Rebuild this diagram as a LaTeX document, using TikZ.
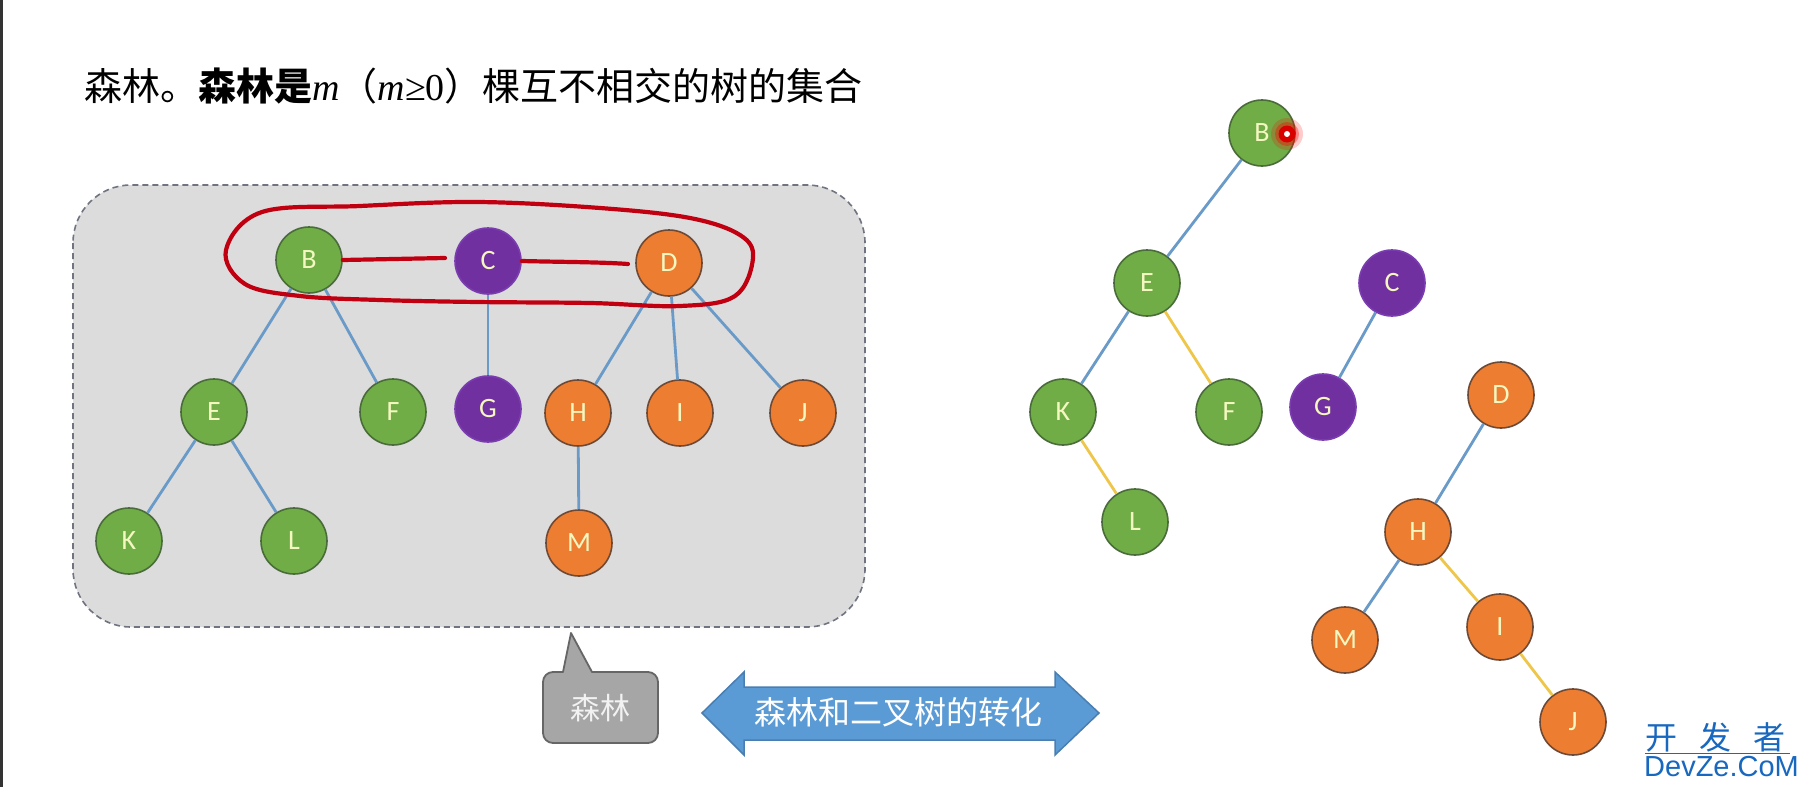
\documentclass[tikz,border=0pt]{standalone}
\usepackage{fontspec}
\setmainfont{Liberation Serif}
\newfontfamily\cjk{Noto Sans CJK SC}
\newfontfamily\nodefont{Carlito}
\newfontfamily\wmfont{Liberation Sans}
\definecolor{ngreen}{HTML}{70AD47}
\definecolor{ngreenb}{HTML}{4A6B3A}
\definecolor{norange}{HTML}{ED7D31}
\definecolor{norangeb}{HTML}{6E4A36}
\definecolor{npurple}{HTML}{7030A0}
\definecolor{npurpleb}{HTML}{7A3DB0}
\definecolor{ntext}{HTML}{F4F8C0}
\definecolor{eblue}{HTML}{6A9BC8}
\definecolor{eyellow}{HTML}{EEC64A}
\definecolor{boxgray}{HTML}{DCDCDC}
\definecolor{dashgray}{HTML}{6F7480}
\definecolor{loopred}{HTML}{C00010}
\definecolor{callgray}{HTML}{A6A6A6}
\definecolor{arrowblue}{HTML}{5B9BD5}
\definecolor{arrowblueb}{HTML}{4A7EB0}
\definecolor{wmblue}{HTML}{1868C0}
\tikzset{
  tnode/.style={circle, minimum size=66pt, inner sep=0pt, line width=1.6pt,
    font=\nodefont\fontsize{28}{30}\selectfont, text=ntext},
  gn/.style={tnode, fill=ngreen, draw=ngreenb},
  on/.style={tnode, fill=norange, draw=norangeb},
  pn/.style={tnode, fill=npurple, draw=npurpleb},
  be/.style={draw=eblue, line width=2.8pt},
  ye/.style={draw=eyellow, line width=2.8pt},
}
\begin{document}
\begin{tikzpicture}[x=1pt, y=-1pt]
\useasboundingbox (0,0) rectangle (1800,787);
\fill[white] (0,0) rectangle (1800,787);
\fill[black!80] (0,0) rectangle (2.5,787);

% title
\node[anchor=west, inner sep=0pt, font=\fontsize{38}{42}\selectfont] (title) at (84,86)
  {{\cjk 森林。\bfseries 森林是}\textit{m}{\cjk （}\textit{m}≥0{\cjk ）棵互不相交的树的集合}};

% forest box
\draw[fill=boxgray, draw=dashgray, line width=1.6pt, dash pattern=on 6pt off 4pt, rounded corners=58pt]
  (73,185) rectangle (865,627);

% left forest nodes
\node[gn] (B) at (309,260) {B};
\node[pn] (C) at (488,261) {C};
\node[on] (D) at (669,263) {D};
\node[gn] (E) at (214,412) {E};
\node[gn] (F) at (393,412) {F};
\node[pn] (G) at (488,409) {G};
\node[on] (H) at (578,413) {H};
\node[on] (I) at (680,413) {I};
\node[on] (J) at (803,413) {J};
\node[gn] (K) at (129,541) {K};
\node[gn] (L) at (294,541) {L};
\node[on] (M) at (579,543) {M};
\draw[be] (B) -- (E);
\draw[be] (B) -- (F);
\draw[be] (C) -- (G);
\draw[be] (D) -- (H);
\draw[be] (D) -- (I);
\draw[be] (D) -- (J);
\draw[be] (E) -- (K);
\draw[be] (E) -- (L);
\draw[be] (H) -- (M);

% red hand-drawn marks
\draw[loopred, line width=4.2pt, line cap=round] plot[smooth cycle, tension=0.6] coordinates {
  (226,250) (262,212) (360,206) (477,202) (600,208) (690,218) (740,235) (753,258)
  (735,296) (680,306) (590,303) (477,302) (380,300) (300,296) (245,284)};
\coordinate (r1) at (445,258);
\coordinate (r2) at (628,264);
\draw[loopred, line width=4.2pt, line cap=round] (B.east) -- (r1);
\draw[loopred, line width=4.2pt, line cap=round] (C.east) .. controls (560,262) and (600,262) .. (r2);

% right binary tree
\node[gn] (B2) at (1262,133) {B};
\node[gn] (E2) at (1147,283) {E};
\node[pn] (C2) at (1392,283) {C};
\node[gn] (K2) at (1063,412) {K};
\node[gn] (F2) at (1229,412) {F};
\node[pn] (G2) at (1323,407) {G};
\node[on] (D2) at (1501,395) {D};
\node[gn] (L2) at (1135,522) {L};
\node[on] (H2) at (1418,532) {H};
\node[on] (M2) at (1345,640) {M};
\node[on] (I2) at (1500,627) {I};
\node[on] (J2) at (1573,722) {J};
\draw[be] (B2) -- (E2);
\draw[be] (E2) -- (K2);
\draw[ye] (E2) -- (F2);
\draw[ye] (K2) -- (L2);
\draw[be] (C2) -- (G2);
\draw[be] (D2) -- (H2);
\draw[be] (H2) -- (M2);
\draw[ye] (H2) -- (I2);
\draw[ye] (I2) -- (J2);

% laser pointer dot
\fill[red, opacity=0.2] (1287,134) circle (16);
\fill[red, opacity=0.35] (1287,134) circle (12);
\fill[red!85!black] (1287,134) circle (8.5);
\fill[white] (1287,134) circle (3);

% callout
\draw[fill=callgray, draw=black!60, line width=1.8pt, line join=round]
  (543,682) arc[start angle=180, end angle=90, radius=10pt] -- (563,672) -- (571,633) -- (592,672)
  -- (648,672) arc[start angle=90, end angle=0, radius=10pt] -- (658,733)
  arc[start angle=0, end angle=-90, radius=10pt] -- (553,743)
  arc[start angle=270, end angle=180, radius=10pt] -- cycle;
\node[font=\cjk\fontsize{30}{32}\selectfont, text=white!95!black] (calltext) at (600,708) {森林};

% double arrow
\draw[fill=arrowblue, draw=arrowblueb, line width=1.5pt, line join=miter]
  (702,713) -- (744,672) -- (744,687) -- (1055,687) -- (1055,672) -- (1099,713)
  -- (1055,755) -- (1055,740) -- (744,740) -- (744,755) -- cycle;
\node[font=\cjk\fontsize{32}{34}\selectfont, text=white] (arrowtext) at (898,712) {森林和二叉树的转化};

% watermark
\node[anchor=west, inner sep=0pt, font=\cjk\fontsize{32}{34}\selectfont, text=wmblue] (wm1) at (1645,737)
  {开\hspace{22pt}发\hspace{22pt}者};
\draw[wmblue, line width=1pt] (1645,753) -- (1790,753);
\node[anchor=west, inner sep=0pt, font=\wmfont\fontsize{29}{30}\selectfont, text=wmblue] (wm2) at (1644,767)
  {DevZe.CoM};
\end{tikzpicture}
\end{document}
